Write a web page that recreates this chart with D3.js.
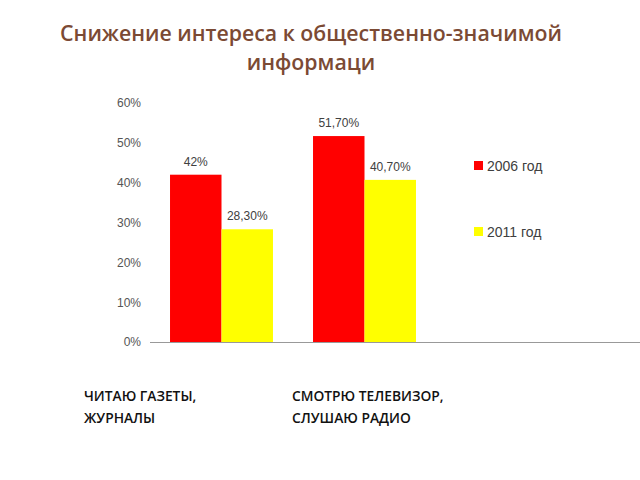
<!DOCTYPE html>
<html>
<head>
<meta charset="utf-8">
<script src="https://cdn.jsdelivr.net/npm/d3@7"></script>
<style>
  body { margin: 0; background: #fff; }
</style>
</head>
<body>
<svg id="vis" width="640" height="480"></svg>
<script>
var titleLines = ["Снижение интереса к общественно-значимой", "информаци"];
var categories = ["ЧИТАЮ ГАЗЕТЫ,|ЖУРНАЛЫ", "СМОТРЮ ТЕЛЕВИЗОР,|СЛУШАЮ РАДИО"];
var seriesNames = ["2006 год", "2011 год"];
var seriesColors = ["#ff0000", "#ffff00"];
var values2006 = [42, 51.7];
var values2011 = [28.3, 40.7];
var labels2006 = ["42%", "51,70%"];
var labels2011 = ["28,30%", "40,70%"];
var yTicks = [0, 10, 20, 30, 40, 50, 60];

var svg = d3.select("#vis");

// title
svg.append("g").selectAll("text")
  .data(titleLines)
  .join("text")
  .attr("x", 311)
  .attr("y", (d, i) => 41 + i * 29)
  .attr("text-anchor", "middle")
  .attr("font-family", "Open Sans")
  .attr("font-weight", 600)
  .attr("font-size", "21.3px")
  .attr("fill", "#7b4a34")
  .text(d => d);

var y = d3.scaleLinear().domain([0, 60]).range([342, 103]);
var x = d3.scaleBand().domain(categories).range([150, 436])
  .paddingInner(0.28).paddingOuter(0.14);
var xs = d3.scaleBand().domain(seriesNames).range([0, x.bandwidth()]);

// y tick labels (no axis line)
var yAxis = d3.axisLeft(y).tickValues(yTicks).tickSize(0).tickPadding(0)
  .tickFormat(d => d + "%");
var ya = svg.append("g").attr("transform", "translate(141,0)").call(yAxis);
ya.select(".domain").remove();
ya.selectAll("text")
  .attr("font-family", "Liberation Sans")
  .attr("font-size", "12px")
  .attr("fill", "#555");

var rows = categories.map((c, i) => ({
  cat: c,
  vals: [values2006[i], values2011[i]],
  labs: [labels2006[i], labels2011[i]]
}));

var groups = svg.append("g").selectAll("g")
  .data(rows)
  .join("g")
  .attr("transform", d => `translate(${x(d.cat)},0)`);

groups.selectAll("rect")
  .data(d => d.vals.map((v, j) => ({ s: seriesNames[j], v: v, c: seriesColors[j] })))
  .join("rect")
  .attr("x", d => xs(d.s))
  .attr("y", d => y(d.v))
  .attr("width", xs.bandwidth())
  .attr("height", d => y(0) - y(d.v))
  .attr("fill", d => d.c);

groups.selectAll("text")
  .data(d => d.vals.map((v, j) => ({ s: seriesNames[j], v: v, l: d.labs[j] })))
  .join("text")
  .attr("x", d => xs(d.s) + xs.bandwidth() / 2)
  .attr("y", d => y(d.v) - 9)
  .attr("text-anchor", "middle")
  .attr("font-family", "Liberation Sans")
  .attr("font-size", "12px")
  .attr("fill", "#404040")
  .text(d => d.l);

// baseline
svg.append("line")
  .attr("x1", 150).attr("x2", 640)
  .attr("y1", y(0) + 0.5).attr("y2", y(0) + 0.5)
  .attr("stroke", "#999").attr("stroke-width", 1);

// category labels
var catX = [84, 292];
svg.append("g").selectAll("text")
  .data(categories)
  .join("text")
  .attr("x", (d, i) => catX[i])
  .attr("y", 401)
  .attr("font-family", "Open Sans")
  .attr("font-weight", 600)
  .attr("font-size", "13.8px")
  .attr("fill", "#111")
  .each(function(d) {
    var t = d3.select(this);
    var x0 = t.attr("x");
    d.split("|").forEach((line, k) => {
      t.append("tspan").attr("x", x0).attr("dy", k ? 22 : 0).text(line);
    });
  });

// legend
var legend = svg.append("g").selectAll("g")
  .data(seriesNames)
  .join("g")
  .attr("transform", (d, i) => `translate(474,${161 + i * 66})`);
legend.append("rect")
  .attr("width", 9).attr("height", 9)
  .attr("fill", (d, i) => seriesColors[i]);
legend.append("text")
  .attr("x", 13).attr("y", 9.5)
  .attr("font-family", "Liberation Sans")
  .attr("font-size", "14px")
  .attr("fill", "#404040")
  .text(d => d);
</script>
</body>
</html>
